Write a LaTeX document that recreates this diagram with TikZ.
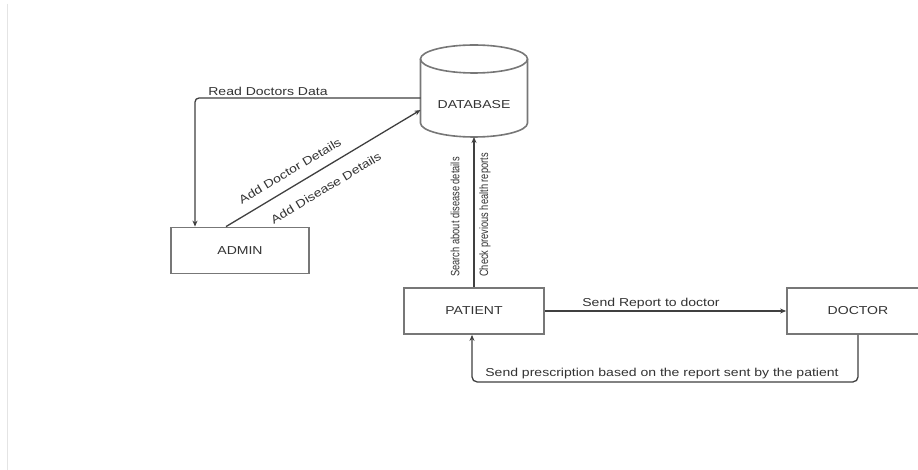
\documentclass[tikz,border=0pt]{standalone}
\usepackage{fontspec}
\setmainfont[FakeStretch=1.22]{Liberation Sans}
\newfontfamily\vfont{Liberation Sans}
\usetikzlibrary{arrows.meta}
\definecolor{boxgray}{HTML}{777777}
\definecolor{arrgray}{HTML}{404040}
\definecolor{txtgray}{HTML}{333333}
\definecolor{edgegray}{HTML}{E4E4E4}
\begin{document}
\begin{tikzpicture}[x=1pt,y=-1pt,
  box/.style={draw=boxgray, line width=1.8pt, minimum width=138pt, minimum height=46pt, inner sep=0pt, font=\fontsize{11.5}{13}\selectfont, text=txtgray},
  arr/.style={draw=arrgray, line width=1.3pt, -{Stealth[length=6pt,width=5pt]}},
  lbl/.style={font=\fontsize{11.5}{13}\selectfont, text=txtgray, inner sep=0pt},
  vlbl/.style={font=\vfont\fontsize{9.3}{11}\selectfont, text=txtgray, inner sep=0pt, rotate=90},
  dbline/.style={draw=boxgray, line width=1.6pt}]
\useasboundingbox (0,0) rectangle (918,470);
\fill[white] (0,0) rectangle (918,470);
\draw[edgegray, line width=1.4pt] (7.5,4) -- (7.5,470);
% database cylinder
\node[minimum width=107pt, minimum height=92pt, inner sep=0pt, outer sep=0pt] (db) at (474,91) {};
\draw[dbline] (420.5,59) -- (420.5,123) arc[start angle=180, end angle=360, x radius=53.5pt, y radius=14pt] -- (527.5,59);
\draw[dbline] (474,59) ellipse [x radius=53.5pt, y radius=14pt];
\node[lbl] (dbt) at (474,105) {DATABASE};
% boxes
\node[box] (admin) at (240,250.5) {ADMIN};
\node[box, minimum width=140pt] (patient) at (474,311) {PATIENT};
\node[box, minimum width=142pt] (doctor) at (858,311) {DOCTOR};
% connectors
\draw[arr, rounded corners=4pt] ([yshift=-7pt]db.west) -| ([xshift=-45pt]admin.north);
\draw[arr] ([xshift=-14pt]admin.north) -- ([yshift=-19pt]db.west);
\draw[arr] (patient.north) -- (db.south);
\draw[arr] (patient.east) -- (doctor.west);
\draw[arr, rounded corners=5pt] (doctor.south) -- ++(0,47) -| ([xshift=-2pt]patient.south);
% labels
\node[lbl] (l1) at (268,91) {Read Doctors Data};
\node[lbl, rotate=31] (l2) at (290,171) {Add Doctor Details};
\node[lbl, rotate=31] (l3) at (326,188) {Add Disease Details};
\node[vlbl] (l4) at (455,217) {\scalebox{1}[1.3]{Search about disease details}};
\node[vlbl] (l5) at (485,215) {\scalebox{1}[1.3]{Check previous health reports}};
\node[lbl] (l6) at (651,304) {Send Report to doctor};
\node[lbl] (l7) at (662,374) {Send prescription based on the report sent by the patient};
\end{tikzpicture}
\end{document}
